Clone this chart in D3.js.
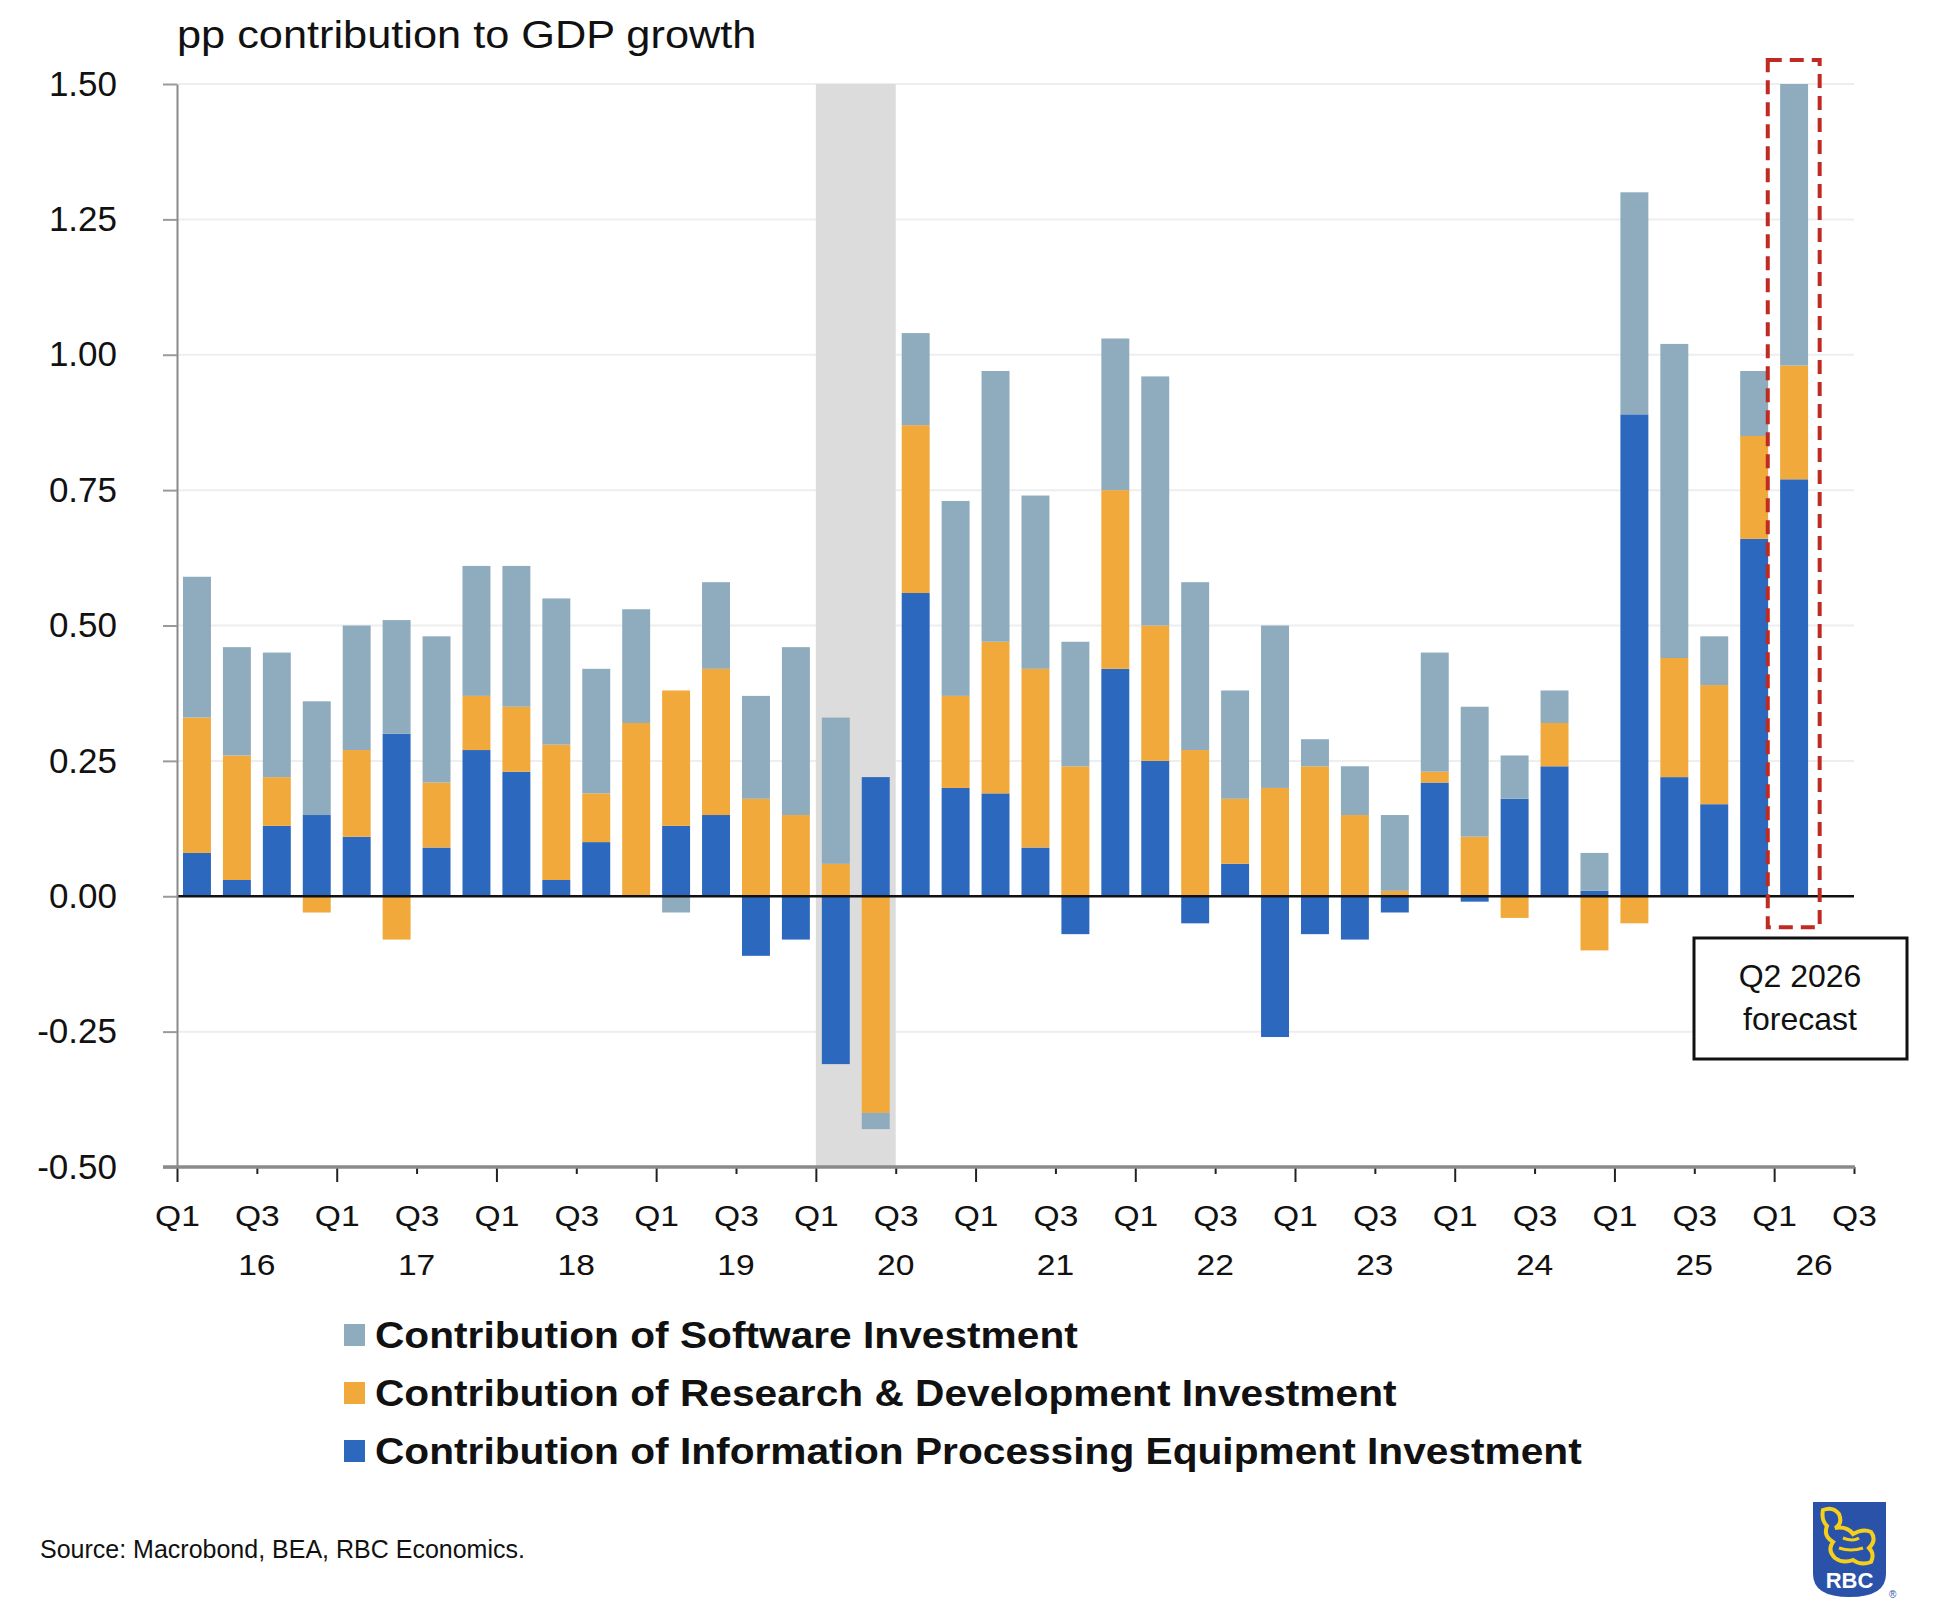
<!DOCTYPE html>
<html>
<head>
<meta charset="utf-8">
<script src="https://cdn.jsdelivr.net/npm/d3@7"></script>
<style>
  body { margin: 0; background: #ffffff; }
  text { font-family: "Liberation Sans", Arial, Helvetica, sans-serif; }
</style>
</head>
<body>
<div id="chart"></div>
<script>
var svgWidth = 1942;
var svgHeight = 1624;

// quarters, one per bar
var quarters = [
    "2016Q1", "2016Q2", "2016Q3", "2016Q4", "2017Q1", "2017Q2", "2017Q3", "2017Q4",
    "2018Q1", "2018Q2", "2018Q3", "2018Q4", "2019Q1", "2019Q2", "2019Q3", "2019Q4",
    "2020Q1", "2020Q2", "2020Q3", "2020Q4", "2021Q1", "2021Q2", "2021Q3", "2021Q4",
    "2022Q1", "2022Q2", "2022Q3", "2022Q4", "2023Q1", "2023Q2", "2023Q3", "2023Q4",
    "2024Q1", "2024Q2", "2024Q3", "2024Q4", "2025Q1", "2025Q2", "2025Q3", "2025Q4",
    "2026Q1"
];

// pp contributions
var equipment = [0.08, 0.03, 0.13, 0.15, 0.11, 0.30, 0.09, 0.27, 0.23, 0.03, 0.10, 0.00, 0.13, 0.15,
    -0.11, -0.08, -0.31, 0.22, 0.56, 0.20, 0.19, 0.09, -0.07, 0.42, 0.25, -0.05, 0.06, -0.26,
    -0.07, -0.08, -0.03, 0.21, -0.01, 0.18, 0.24, 0.01, 0.89, 0.22, 0.17, 0.66, 0.77];
var research = [0.25, 0.23, 0.09, -0.03, 0.16, -0.08, 0.12, 0.10, 0.12, 0.25, 0.09, 0.32, 0.25, 0.27,
    0.18, 0.15, 0.06, -0.40, 0.31, 0.17, 0.28, 0.33, 0.24, 0.33, 0.25, 0.27, 0.12, 0.20,
    0.24, 0.15, 0.01, 0.02, 0.11, -0.04, 0.08, -0.10, -0.05, 0.22, 0.22, 0.19, 0.21];
var software = [0.26, 0.20, 0.23, 0.21, 0.23, 0.21, 0.27, 0.24, 0.26, 0.27, 0.23, 0.21, -0.03, 0.16,
    0.19, 0.31, 0.27, -0.03, 0.17, 0.36, 0.50, 0.32, 0.23, 0.28, 0.46, 0.31, 0.20, 0.30,
    0.05, 0.09, 0.14, 0.22, 0.24, 0.08, 0.06, 0.07, 0.41, 0.58, 0.09, 0.12, 0.52];

var yTicks = [-0.5, -0.25, 0, 0.25, 0.5, 0.75, 1.0, 1.25, 1.5];
var quarterTickLabels = ["Q1", "Q3"];
var years = ["16", "17", "18", "19", "20", "21", "22", "23", "24", "25", "26"];
var legendLabels = [
    "Contribution of Software Investment",
    "Contribution of Research & Development Investment",
    "Contribution of Information Processing Equipment Investment"
];
var recessionQuarters = ["2020Q1", "2020Q2"];
var forecastQuarter = "2026Q1";

var colors = { sw: "#8eacbd", rd: "#f1a93b", equip: "#2c68be" };

var plot = { left: 177, right: 1854, top: 84, bottom: 1167 };
var nQuarters = 42; // axis runs Q1 2016 .. Q3 2026

var svg = d3.select("#chart")
    .append("svg")
    .attr("width", svgWidth)
    .attr("height", svgHeight);

svg.append("rect").attr("width", svgWidth).attr("height", svgHeight).attr("fill", "#fff");

var x = d3.scaleLinear().domain([0, nQuarters]).range([plot.left, plot.right]);
var y = d3.scaleLinear().domain([-0.5, 1.5]).range([plot.bottom, plot.top]);

// text helper, lets the wide lettering of the original be matched
function addText(g, tx, ty, str, size, opts) {
    opts = opts || {};
    return g.append("text")
        .attr("transform", `translate(${tx},${ty}) scale(${opts.sx || 1},1)`)
        .attr("text-anchor", opts.anchor || "start")
        .style("font-size", size + "px")
        .style("font-weight", opts.weight || "normal")
        .style("fill", opts.fill || "#111")
        .text(str);
}

// title
addText(svg, plot.left, 48, "pp contribution to GDP growth", 38, { sx: 1.14 });

// gridlines
svg.append("g").selectAll("line")
    .data(yTicks.filter(d => d !== 0 && d !== -0.5))
    .enter().append("line")
    .attr("x1", plot.left).attr("x2", plot.right)
    .attr("y1", d => y(d)).attr("y2", d => y(d))
    .attr("stroke", "#eeeeee").attr("stroke-width", 2);

// recession shading
var r0 = quarters.indexOf(recessionQuarters[0]);
var r1 = quarters.indexOf(recessionQuarters[1]) + 1;
svg.append("rect")
    .attr("x", x(r0)).attr("width", x(r1) - x(r0))
    .attr("y", plot.top).attr("height", plot.bottom - plot.top)
    .attr("fill", "#dcdcdc");

// stacked bars
var rows = quarters.map((q, i) => ({ q: q, i: i, equip: equipment[i], rd: research[i], sw: software[i] }));
var stack = d3.stack().keys(["equip", "rd", "sw"]).offset(d3.stackOffsetDiverging);
var layers = stack(rows);

svg.append("g").selectAll("g")
    .data(layers)
    .enter().append("g")
    .attr("fill", d => colors[d.key])
    .selectAll("rect")
    .data(d => d)
    .enter().append("rect")
    .attr("x", d => x(d.data.i + 0.15))
    .attr("width", d => x(d.data.i + 0.85) - x(d.data.i + 0.15))
    .attr("y", d => y(Math.max(d[0], d[1])))
    .attr("height", d => Math.abs(y(d[0]) - y(d[1])));

// zero line
svg.append("line")
    .attr("x1", plot.left).attr("x2", plot.right)
    .attr("y1", y(0)).attr("y2", y(0))
    .attr("stroke", "#111").attr("stroke-width", 2.5);

// y axis
var leftAxis = d3.axisLeft(y)
    .tickValues(yTicks)
    .tickSize(14)
    .tickSizeOuter(0)
    .tickPadding(46)
    .tickFormat(d => d3.format(".2f")(d).replace("\u2212", "-"));

var yAxisG = svg.append("g")
    .attr("transform", `translate(${plot.left},0)`)
    .call(leftAxis);
yAxisG.select(".domain").attr("stroke", "#8a8a8a").attr("stroke-width", 2);
yAxisG.selectAll(".tick line").attr("stroke", "#9a9a9a").attr("stroke-width", 2);
yAxisG.selectAll(".tick text")
    .style("font-size", "35px")
    .style("font-family", "'Liberation Sans', Arial, sans-serif")
    .attr("fill", "#111");

// x axis
var bottomAxis = d3.axisBottom(x)
    .tickValues(d3.range(0, nQuarters + 1, 2))
    .tickSize(14)
    .tickSizeOuter(0)
    .tickPadding(22)
    .tickFormat(d => quarterTickLabels[(d / 2) % 2]);

var xAxisG = svg.append("g")
    .attr("transform", `translate(0,${plot.bottom})`)
    .call(bottomAxis);
xAxisG.select(".domain").remove();
xAxisG.selectAll(".tick line")
    .attr("stroke", "#222").attr("stroke-width", 2)
    .attr("y2", d => (d % 4 === 0 ? 15 : 7));
xAxisG.selectAll(".tick text")
    .attr("y", 0)
    .attr("dy", 0)
    .attr("transform", "translate(0,59) scale(1.12,1)")
    .style("font-size", "30px")
    .style("font-family", "'Liberation Sans', Arial, sans-serif")
    .attr("fill", "#111");

// bottom axis line
svg.append("line")
    .attr("x1", plot.left - 14).attr("x2", plot.right + 1)
    .attr("y1", plot.bottom).attr("y2", plot.bottom)
    .attr("stroke", "#8a8a8a").attr("stroke-width", 3.5);

// year labels, centred on the part of each year that is on the axis
var yearG = svg.append("g");
years.forEach(function (yr, k) {
    var a = k * 4, b = Math.min(k * 4 + 4, nQuarters);
    addText(yearG, x((a + b) / 2), plot.bottom + 108, yr, 30, { anchor: "middle", sx: 1.12 });
});

// forecast box
var fi = quarters.indexOf(forecastQuarter);
svg.append("rect")
    .attr("x", x(fi - 0.16)).attr("width", x(fi + 1.14) - x(fi - 0.16))
    .attr("y", y(1.5) - 24).attr("height", y(0) + 31 - (y(1.5) - 24))
    .attr("fill", "none")
    .attr("stroke", "#bf2a22").attr("stroke-width", 4)
    .attr("stroke-dasharray", "14,8");

var noteG = svg.append("g");
noteG.append("rect")
    .attr("x", 1694).attr("y", 938).attr("width", 213).attr("height", 121)
    .attr("fill", "#fff").attr("stroke", "#111").attr("stroke-width", 3);
addText(noteG, 1800, 987, "Q2 2026", 32, { anchor: "middle" });
addText(noteG, 1800, 1030, "forecast", 32, { anchor: "middle" });

// legend
var legendKeys = ["sw", "rd", "equip"];
var legendG = svg.append("g");
legendLabels.forEach(function (lab, k) {
    var ly = 1324 + k * 58;
    legendG.append("rect")
        .attr("x", 344).attr("y", ly).attr("width", 21).attr("height", 22)
        .attr("fill", colors[legendKeys[k]]);
    addText(legendG, 375, ly + 24, lab, 36, { weight: "bold", sx: 1.13 });
});

// source
addText(svg, 40, 1558, "Source: Macrobond, BEA, RBC Economics.", 25, {});

// RBC logo
var logo = svg.append("g").attr("transform", "translate(1813,1502)");
logo.append("path")
    .attr("d", "M0,0 H73 V72 Q73,95 36.5,95 Q0,95 0,72 Z")
    .attr("fill", "#2a52a8");
logo.append("path")
    .attr("d", "M10,8 Q20,4 26,12 Q30,22 22,26 Q34,24 40,32 Q50,26 58,30 Q64,38 56,46 Q62,52 58,60 Q48,64 40,58 Q30,62 22,56 Q14,48 20,40 Q10,34 14,24 Q8,18 10,8 Z")
    .attr("fill", "none").attr("stroke", "#f4cf1c").attr("stroke-width", 4);
logo.append("path")
    .attr("d", "M30,36 Q40,40 46,36 M26,46 Q38,50 50,46")
    .attr("fill", "none").attr("stroke", "#f4cf1c").attr("stroke-width", 3);
addText(logo, 36.5, 86, "RBC", 22, { anchor: "middle", weight: "bold", fill: "#ffffff" });
addText(logo, 76, 96, "®", 10, { fill: "#2a52a8" });
</script>
</body>
</html>
